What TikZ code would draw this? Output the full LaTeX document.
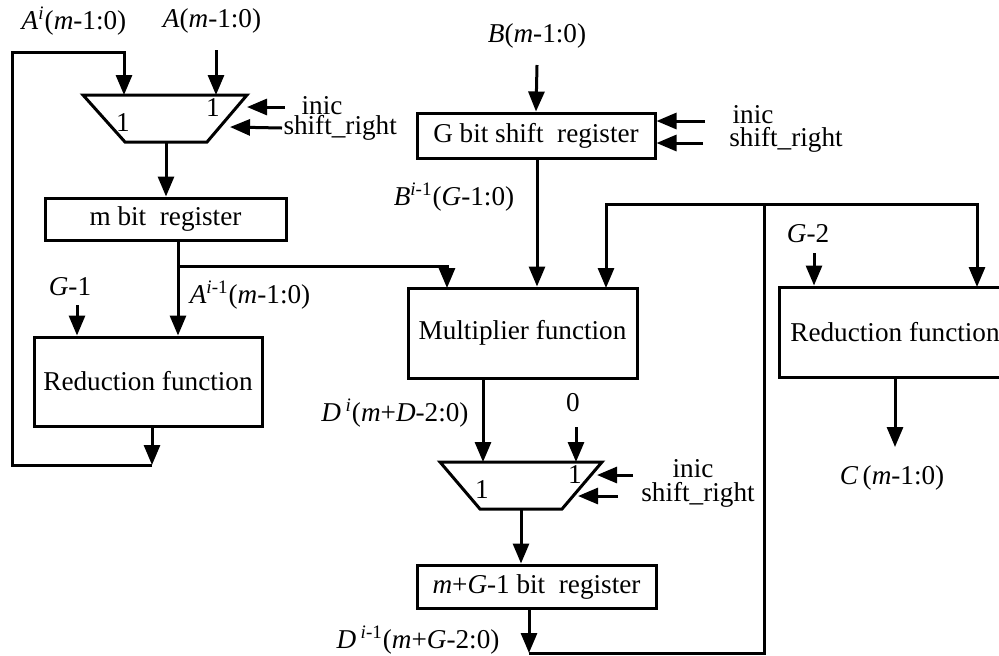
\documentclass[tikz,border=0pt]{standalone}
\usepackage{fontspec}
\setmainfont{Liberation Serif}
\usetikzlibrary{arrows.meta}

\tikzset{
  blk/.style={draw, line width=1.5pt, inner sep=0pt, font=\fontsize{13.6}{16}\selectfont},
  lbl/.style={inner sep=0pt, font=\fontsize{13.6}{16}\selectfont},
  arr/.style={-{Triangle[length=10pt,width=8pt]}},
}

\begin{document}
\begin{tikzpicture}[x=0.5pt,y=-0.5pt,line width=1.5pt]
            \useasboundingbox (0,0) rectangle (999,655);
            \clip (0,0) rectangle (999,655);

            \node[blk, minimum width=120.5pt, minimum height=21pt] (mreg) at (165.5,219) {m bit\ \ register};
            \node[blk, minimum width=114pt, minimum height=44.5pt] (redl) at (148,381.5) {Reduction function};
            \node[blk, minimum width=119pt, minimum height=22.5pt] (gsr) at (536,135.5) {G bit shift\ \ register};
            \node[blk, minimum width=114.5pt, minimum height=45pt] (mult) at (522.5,333) {Multiplier function};
            \node[blk, minimum width=116pt, minimum height=45pt] (redr) at (895,332) {Reduction function};
            \node[blk, minimum width=119.5pt, minimum height=21.5pt] (dreg) at (536.5,586.5) {\textit{m}+\textit{G}-1 bit\ \ register};

            \draw (83,95) -- (247,95) -- (207,142) -- (125,142) -- cycle;
            \draw (440,462) -- (602,462) -- (562,509) -- (480,509) -- cycle;
            \node[lbl] (ma-l) at (123,123) {1};
            \node[lbl] (ma-r) at (213,108) {1};
            \node[lbl] (md-l) at (482,490) {1};
            \node[lbl] (md-r) at (575,475) {1};

            \coordinate (ma-in1) at (124,95);
            \coordinate (ma-in2) at (216,95);
            \coordinate (ma-out) at (166,142);
            \coordinate (md-in1) at (483,462);
            \coordinate (md-in2) at (576,462);
            \coordinate (md-out) at (521,509);

            \node[lbl] (lAi) at (74,21) {\textit{A}\textsuperscript{\textit{i}}(\textit{m}-1:0)};
            \node[lbl] (lA) at (212,21) {\textit{A}(\textit{m}-1:0)};
            \node[lbl] (lB) at (537,36) {\textit{B}(\textit{m}-1:0)};
            \node[lbl] (lBi) at (454,197) {\textit{B}\textsuperscript{\textit{i}-1}(\textit{G}-1:0)};
            \node[lbl] (lAim) at (250,295) {\textit{A}\textsuperscript{\textit{i}-1}(\textit{m}-1:0)};
            \node[lbl] (lG1) at (70,287) {\textit{G}-1};
            \node[lbl] (lG2) at (808,234) {\textit{G}-2};
            \node[lbl] (lC) at (892,478) {\textit{C}\,(\textit{m}-1:0)};
            \node[lbl] (lDi) at (395,413) {\textit{D}\,\textsuperscript{\textit{i}}(\textit{m}+\textit{D}-2:0)};
            \node[lbl] (l0) at (573,403) {0};
            \node[lbl] (lDim) at (418,640) {\textit{D}\,\textsuperscript{\textit{i}-1}(\textit{m}+\textit{G}-2:0)};

            \node[lbl] (ia) at (322,106) {inic};
            \node[lbl, anchor=west] (sa) at (282,128) {shift\_right};
            \node[lbl] (ib) at (753,115) {inic};
            \node[lbl] (sb) at (786,140) {shift\_right};
            \node[lbl] (id) at (693,469) {inic};
            \node[lbl] (sd) at (698,495) {shift\_right};

            % mux A and loop
            \coordinate (lpb) at (152,465);
            \draw[arr] (216,50) -- (ma-in2);
            \draw[arr] (redl.south -| lpb) -- (lpb);
            \draw[arr] (lpb) -- (12,465) -- (12,52) -| (ma-in1);
            \draw[arr] (285,107) -- (247,107);
            \draw[arr] (sa.west) -- (230,127);
            \draw[arr] (ma-out) -- (mreg.north -| ma-out);

            \coordinate (ja) at (178,266);
            \coordinate (mi1) at (447,288);
            \draw[arr] (mreg.south -| ja) -- (redl.north -| ja);
            \draw[arr] (ja) -| (mi1);
            \draw[arr] (77,305) -- (redl.north -| 77,0);

            % B path
            \draw[arr] (537,65) -- (gsr.north);
            \draw[arr] (705,121) -- (gsr.east |- 0,121);
            \draw[arr] (703,143) -- (gsr.east |- 0,143);
            \draw[arr] (gsr.south -| 537,0) -- (mult.north -| 537,0);

            % multiplier output
            \draw[arr] (mult.south -| md-in1) -- (md-in1);
            \draw[arr] (576,427) -- (md-in2);
            \draw[arr] (633,475) -- (597,475);
            \draw[arr] (618,496) -- (578,496);
            \draw[arr] (md-out) -- (dreg.north -| md-out);

            % feedback
            \coordinate (db) at (529,653);
            \coordinate (fb) at (764,204);
            \draw[arr] (dreg.south -| db) -- (db);
            \draw (db) -- (764,653) -- (fb);
            \draw[arr] (fb) -| (606,288);
            \draw[arr] (fb) -| (977,287);

            % right reduction
            \draw[arr] (814,253) -- (redr.north -| 814,0);
            \draw[arr] (redr.south -| 895,0) -- (895,447);
        \end{tikzpicture}
\end{document}
